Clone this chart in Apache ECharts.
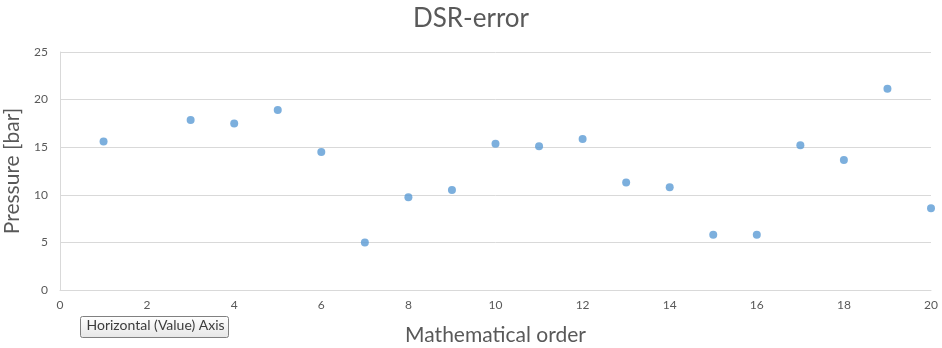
<!DOCTYPE html>
<html>
<head>
<meta charset="utf-8">
<script src="https://cdn.jsdelivr.net/npm/echarts@6/dist/echarts.min.js"></script>
<style>
  html, body { margin: 0; padding: 0; background: #fff; }
  #chart { width: 942px; height: 348px; }
</style>
</head>
<body>
<div id="chart"></div>
<script>
// Mathematical order (x) and measured pressure error (y)
const orders = [1, 3, 4, 5, 6, 7, 8, 9, 10, 11, 12, 13, 14, 15, 16, 17, 18, 19, 20];
const pressures = [15.6, 17.85, 17.5, 18.9, 14.5, 5.0, 9.75, 10.5, 15.35, 15.1, 15.85, 11.3, 10.8, 5.8, 5.8, 15.2, 13.65, 21.15, 8.6];
const xTicks = [0, 2, 4, 6, 8, 10, 12, 14, 16, 18, 20];
const yTicks = [0, 5, 10, 15, 20, 25];

const FONT = 'Lato, "Open Sans", sans-serif';
const points = orders.map((o, i) => [o, pressures[i]]);

const chart = echarts.init(document.getElementById('chart'), null, { renderer: 'canvas' });
chart.setOption({
  backgroundColor: '#ffffff',
  animation: false,
  title: {
    text: 'DSR-error',
    left: 'center',
    top: 1,
    textStyle: { fontFamily: FONT, fontSize: 26, fontWeight: 'normal', color: '#595959' }
  },
  grid: { left: 60, right: 11, top: 52, bottom: 58, outerBoundsMode: 'none', containLabel: false },
  xAxis: {
    type: 'value',
    min: xTicks[0],
    max: xTicks[xTicks.length - 1],
    interval: xTicks[1] - xTicks[0],
    name: 'Mathematical order',
    nameLocation: 'middle',
    nameGap: 35,
    nameTextStyle: { fontFamily: FONT, fontSize: 21, color: '#595959' },
    axisLine: { show: true, lineStyle: { color: '#d9d9d9', width: 1 } },
    axisTick: { show: false },
    splitLine: { show: false },
    axisLabel: { fontFamily: FONT, fontSize: 12, color: '#595959', margin: 9 }
  },
  yAxis: {
    type: 'value',
    min: yTicks[0],
    max: yTicks[yTicks.length - 1],
    interval: yTicks[1] - yTicks[0],
    name: 'Pressure [bar]',
    nameLocation: 'middle',
    nameGap: 32,
    nameTextStyle: { fontFamily: FONT, fontSize: 21, color: '#595959' },
    axisLine: { show: true, lineStyle: { color: '#d9d9d9', width: 1 } },
    axisTick: { show: false },
    splitLine: { show: true, lineStyle: { color: '#d9d9d9', width: 1 } },
    axisLabel: { fontFamily: FONT, fontSize: 12, color: '#595959', margin: 12 }
  },
  series: [{
    type: 'scatter',
    data: points,
    symbol: 'circle',
    symbolSize: 8,
    itemStyle: { color: '#5b9bd5' }
  }],
  graphic: [{
    type: 'group',
    left: 80,
    top: 316,
    children: [{
      type: 'rect',
      shape: { x: 0, y: 0, width: 148, height: 21, r: 2 },
      style: {
        fill: new echarts.graphic.LinearGradient(0, 0, 0, 1, [
          { offset: 0, color: '#ffffff' },
          { offset: 1, color: '#e6e6e6' }
        ]),
        stroke: '#808080',
        lineWidth: 1
      }
    }, {
      type: 'text',
      left: 6,
      top: 2,
      style: {
        text: 'Horizontal (Value) Axis',
        fontFamily: FONT,
        fontSize: 14,
        fill: '#3c3c3c'
      }
    }]
  }]
});
</script>
</body>
</html>
